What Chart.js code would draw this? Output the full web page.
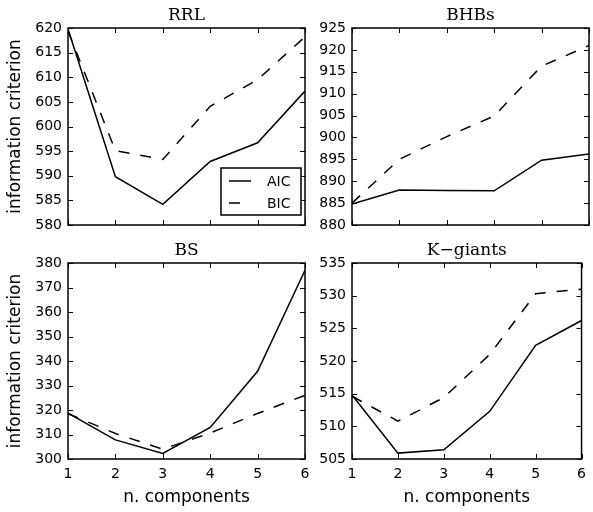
<!DOCTYPE html>
<html><head><meta charset="utf-8">
<script src="https://cdn.jsdelivr.net/npm/chart.js@4.4.0/dist/chart.umd.min.js"></script>
<style>
html,body{margin:0;padding:0;background:#fff;}
#wrap{position:relative;width:593px;height:512px;overflow:hidden;background:#fff;}
canvas{position:absolute;left:0;top:0;}
</style></head><body>
<div id="wrap">
<canvas id="c0" width="593" height="512"></canvas>
<canvas id="c1" width="593" height="512"></canvas>
<canvas id="c2" width="593" height="512"></canvas>
<canvas id="c3" width="593" height="512"></canvas>
</div>
<script>
// ---- data ----
const components = [1, 2, 3, 4, 5, 6];
const seriesNames = ['AIC', 'BIC'];
const panelTitles = ['RRL', 'BHBs', 'BS', 'K\u2212giants'];

const rrlAIC = [619.8, 589.8, 584.2, 592.9, 596.7, 607.2];
const rrlBIC = [619.4, 595.1, 593.3, 604.1, 609.5, 618.2];
const bhbAIC = [884.8, 888.0, 887.9, 887.8, 894.8, 896.2];
const bhbBIC = [885.0, 895.0, 900.2, 904.9, 916.3, 921.0];
const bsAIC  = [318.7, 307.8, 302.3, 312.9, 335.8, 377.0];
const bsBIC  = [318.5, 310.4, 304.0, 310.6, 318.6, 326.0];
const kgAIC  = [514.8, 505.9, 506.4, 512.3, 522.4, 526.2];
const kgBIC  = [514.6, 510.8, 514.4, 521.0, 530.3, 531.0];

const rrlRange = [580, 620, 5];
const bhbRange = [880, 925, 5];
const bsRange  = [300, 380, 10];
const kgRange  = [505, 535, 5];

const yLabel = 'information criterion';
const xLabel = 'n. components';

// ---- layout ----
const W = 593, H = 512, YW = 60, XH = 22;
const FONT = 'DejaVu Sans';
const panels = [
  {title: panelTitles[0], aic: rrlAIC, bic: rrlBIC, range: rrlRange, area: {l: 68,  t: 28,  r: 305, b: 225}, showX: false, showYLabel: true,  legend: true},
  {title: panelTitles[1], aic: bhbAIC, bic: bhbBIC, range: bhbRange, area: {l: 352, t: 28,  r: 589, b: 225}, showX: false, showYLabel: false, legend: false},
  {title: panelTitles[2], aic: bsAIC,  bic: bsBIC,  range: bsRange,  area: {l: 68,  t: 263, r: 305, b: 459}, showX: true,  showYLabel: true,  legend: false},
  {title: panelTitles[3], aic: kgAIC,  bic: kgBIC,  range: kgRange,  area: {l: 352, t: 263, r: 589, b: 459}, showX: true,  showYLabel: false, legend: false}
];
const DASH = [11, 11];

const framePlugin = {
  id: 'frame',
  afterDatasetsDraw(chart, args, opts) {
    const p = opts.panel;
    const ctx = chart.ctx;
    const {left, right, top, bottom} = chart.chartArea;
    const xs = chart.scales.x, ys = chart.scales.y;
    ctx.save();
    ctx.strokeStyle = '#000';
    // inward ticks on all four sides
    ctx.lineWidth = 1;
    ctx.beginPath();
    xs.ticks.forEach(t => {
      const px = Math.round(xs.getPixelForValue(t.value)) + 0.5;
      ctx.moveTo(px, bottom); ctx.lineTo(px, bottom - 5);
      ctx.moveTo(px, top); ctx.lineTo(px, top + 5);
    });
    ys.ticks.forEach(t => {
      const py = Math.round(ys.getPixelForValue(t.value)) + 0.5;
      ctx.moveTo(left, py); ctx.lineTo(left + 5, py);
      ctx.moveTo(right, py); ctx.lineTo(right - 5, py);
    });
    ctx.stroke();
    // frame
    ctx.lineWidth = 1.5;
    ctx.strokeRect(left, top, right - left, bottom - top);

    // title
    ctx.fillStyle = '#000';
    ctx.font = '17px "DejaVu Serif"';
    ctx.textAlign = 'center';
    ctx.textBaseline = 'alphabetic';
    ctx.fillText(p.title, (left + right) / 2, top - 8);

    // y label
    if (p.showYLabel) {
      ctx.save();
      ctx.font = '17px "' + FONT + '"';
      ctx.translate(20, (top + bottom) / 2);
      ctx.rotate(-Math.PI / 2);
      ctx.textAlign = 'center';
      ctx.textBaseline = 'alphabetic';
      ctx.fillText(yLabel, 0, 0);
      ctx.restore();
    }
    // x label
    if (p.showX) {
      ctx.font = '17px "' + FONT + '"';
      ctx.textAlign = 'center';
      ctx.textBaseline = 'alphabetic';
      ctx.fillText(xLabel, (left + right) / 2, 502);
    }
    // legend
    if (p.legend) {
      const bx = right - 84, by = bottom - 57, bw = 80, bh = 47;
      ctx.fillStyle = '#fff';
      ctx.fillRect(bx, by, bw, bh);
      ctx.lineWidth = 1.5;
      ctx.strokeRect(bx, by, bw, bh);
      chart.data.datasets.forEach((ds, i) => {
        const yy = by + 13 + i * 22;
        ctx.save();
        ctx.lineWidth = ds.borderWidth;
        ctx.setLineDash(ds.borderDash || []);
        ctx.beginPath();
        ctx.moveTo(bx + 8, yy); ctx.lineTo(bx + 30, yy);
        ctx.stroke();
        ctx.restore();
        ctx.fillStyle = '#000';
        ctx.font = '14px "' + FONT + '"';
        ctx.textAlign = 'left';
        ctx.textBaseline = 'middle';
        ctx.fillText(ds.label, bx + 46, yy + 1);
      });
    }
    ctx.restore();
  }
};

function makeChart(id, p) {
  const pts = arr => components.map((x, i) => ({x: x, y: arr[i]}));
  return new Chart(document.getElementById(id), {
    type: 'line',
    data: {
      datasets: [
        {label: seriesNames[0], data: pts(p.aic), borderColor: '#000', borderWidth: 1.5, pointRadius: 0, fill: false, tension: 0},
        {label: seriesNames[1], data: pts(p.bic), borderColor: '#000', borderWidth: 1.5, borderDash: DASH, pointRadius: 0, fill: false, tension: 0}
      ]
    },
    options: {
      responsive: false, animation: false, devicePixelRatio: 1,
      layout: {padding: {left: p.area.l - YW, top: p.area.t, right: W - p.area.r, bottom: H - p.area.b - XH}},
      plugins: {legend: {display: false}, tooltip: {enabled: false}, title: {display: false}, frame: {panel: p}},
      scales: {
        x: {
          type: 'linear', min: 1, max: 6,
          grid: {display: false, drawTicks: false}, border: {display: false},
          ticks: {stepSize: 1, display: p.showX, padding: 7, color: '#000', font: {family: FONT, size: 14}},
          afterFit(s) { s.height = XH; }
        },
        y: {
          type: 'linear', min: p.range[0], max: p.range[1],
          grid: {display: false, drawTicks: false}, border: {display: false},
          ticks: {stepSize: p.range[2], padding: 6, color: '#000', font: {family: FONT, size: 14}},
          afterFit(s) { s.width = YW; }
        }
      }
    },
    plugins: [framePlugin]
  });
}
panels.forEach((p, i) => makeChart('c' + i, p));
</script>
</body></html>
